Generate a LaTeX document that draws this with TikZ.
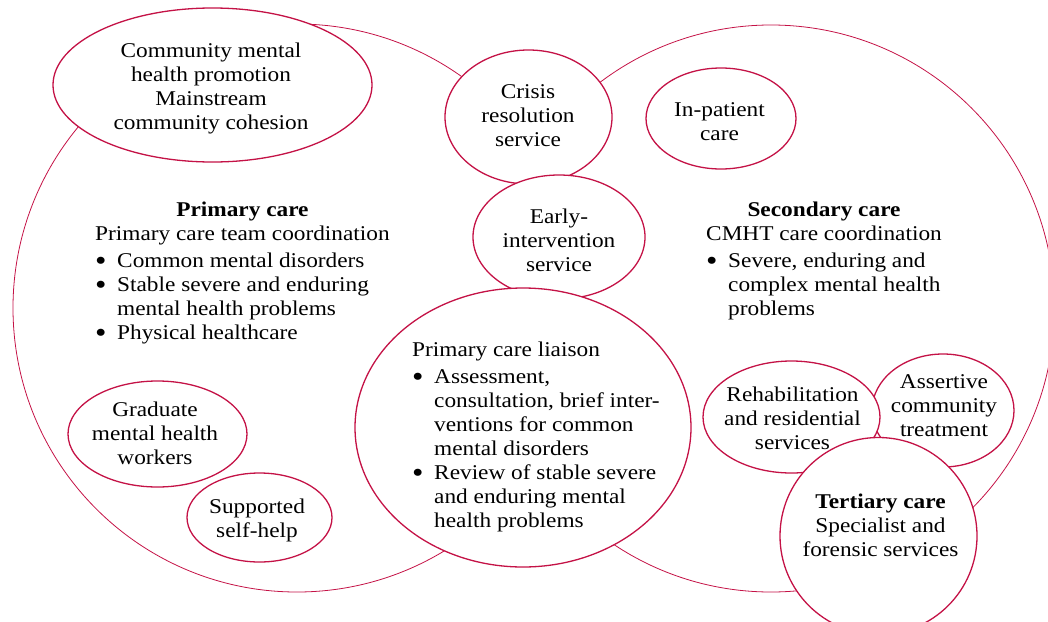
\documentclass[tikz,border=0pt]{standalone}
\usepackage{fontspec}
\usepackage{graphicx}
\setmainfont[FakeStretch=1.11]{Liberation Serif}
\usetikzlibrary{shapes.geometric}
\definecolor{crim}{RGB}{196,18,70}
\newcommand{\bul}{\makebox[22pt][l]{\raisebox{-3.2pt}{\scalebox{1.4}{\textbullet}}}}
\newcommand{\ind}{\hspace*{22pt}}
\begin{document}
\begin{tikzpicture}[x=1pt,y=-1pt,
  bigc/.style={draw=crim, line width=0.8pt, circle, inner sep=0pt, minimum size=#1},
  blob/.style={draw=crim, line width=1.3pt, fill=white, ellipse, inner sep=0pt},
  lbl/.style={inner sep=0pt, anchor=base, font=\fontsize{21}{24}\selectfont},
  blk/.style={inner sep=0pt, anchor=base west, font=\fontsize{21}{24}\selectfont}]
\useasboundingbox (0,0) rectangle (1048,621);
\clip (0,0) rectangle (1048,621);
% big areas
\node[bigc=568pt] (primary) at (297,308) {};
\begin{scope}
\clip (500,0) rectangle (1048,621);
\node[bigc=567pt] (secondary) at (771,308.5) {};
\end{scope}
% services
\node[blob, minimum width=319pt, minimum height=154pt] (community) at (212.5,85) {};
\node[blob, minimum width=167pt, minimum height=134pt] (crisis) at (528.5,117) {};
\node[blob, minimum width=172pt, minimum height=124pt] (early) at (559,237) {};
\node[blob, minimum width=336pt, minimum height=279pt] (liaison) at (523,427.5) {};
\node[blob, minimum width=150pt, minimum height=101pt] (inpatient) at (721,118.5) {};
\node[blob, minimum width=179pt, minimum height=106pt] (graduate) at (157.5,434) {};
\node[blob, minimum width=145pt, minimum height=89pt] (selfhelp) at (259.5,517.5) {};
\node[blob, minimum width=142pt, minimum height=113pt] (assertive) at (943,410.5) {};
\node[blob, minimum width=177pt, minimum height=112pt] (rehab) at (791.5,417) {};
\node[blob, circle, minimum size=197pt] (tertiary) at (878.5,536) {};
% texts
\node[lbl] (communityT) at (211,57) {\begin{tabular}[t]{@{}c@{}}Community mental\\health promotion\\Mainstream\\community cohesion\end{tabular}};
\node[lbl] (crisisT) at (528,98) {\begin{tabular}[t]{@{}c@{}}Crisis\\resolution\\service\end{tabular}};
\node[lbl] (earlyT) at (559,223) {\begin{tabular}[t]{@{}c@{}}Early-\\intervention\\service\end{tabular}};
\node[lbl] (inpatientT) at (719.5,116) {\begin{tabular}[t]{@{}c@{}}In-patient\\care\end{tabular}};
\node[lbl] (graduateT) at (155,416) {\begin{tabular}[t]{@{}c@{}}Graduate\\mental health\\workers\end{tabular}};
\node[lbl] (selfhelpT) at (257,513) {\begin{tabular}[t]{@{}c@{}}Supported\\self-help\end{tabular}};
\node[lbl] (rehabT) at (792.5,401) {\begin{tabular}[t]{@{}c@{}}Rehabilitation\\and residential\\services\end{tabular}};
\node[lbl] (assertiveT) at (944,388) {\begin{tabular}[t]{@{}c@{}}Assertive\\community\\treatment\end{tabular}};
\node[lbl] (tertiaryT) at (880.5,508) {\begin{tabular}[t]{@{}c@{}}\textbf{Tertiary care}\\Specialist and\\forensic services\end{tabular}};
\node[blk] (primaryT) at (95,216) {\begin{tabular}[t]{@{}l@{}}\multicolumn{1}{@{}c@{}}{\textbf{Primary care}}\\Primary care team coordination\\[3pt]
\bul Common mental disorders\\
\bul Stable severe and enduring\\
\ind mental health problems\\
\bul Physical healthcare\end{tabular}};
\node[blk] (secondaryT) at (706,216) {\begin{tabular}[t]{@{}l@{}}\multicolumn{1}{@{}c@{}}{\textbf{Secondary care}}\\CMHT care coordination\\[3pt]
\bul Severe, enduring and\\
\ind complex mental health\\
\ind problems\end{tabular}};
\node[blk] (liaisonT) at (412,356) {\begin{tabular}[t]{@{}l@{}}Primary care liaison\\[3pt]
\bul Assessment,\\
\ind consultation, brief inter-\\
\ind ventions for common\\
\ind mental disorders\\
\bul Review of stable severe\\
\ind and enduring mental\\
\ind health problems\end{tabular}};
\end{tikzpicture}
\end{document}
